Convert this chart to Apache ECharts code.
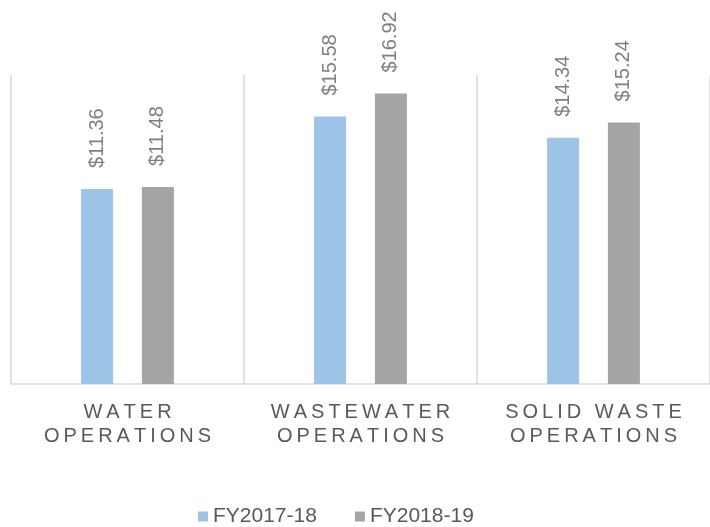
<!DOCTYPE html>
<html>
<head>
<meta charset="utf-8">
<script src="https://cdn.jsdelivr.net/npm/echarts@6/dist/echarts.min.js"></script>
<style>
  html, body { margin: 0; padding: 0; background: #fff; }
  #main { width: 710px; height: 527px; }
</style>
</head>
<body>
<div id="main"></div>
<script>
// chart data
var categories = ['WATER\nOPERATIONS', 'WASTEWATER\nOPERATIONS', 'SOLID WASTE\nOPERATIONS'];
var seriesNames = ['FY2017-18', 'FY2018-19'];
var fy2017 = [11.36, 15.58, 14.34];
var fy2018 = [11.48, 16.92, 15.24];

var colors = ['#9DC3E6', '#A5A5A5'];

// category labels are letter-spaced in the original: draw them char by char
var spacedLines = [];
categories.forEach(function (c) {
    spacedLines = spacedLines.concat(c.split('\n'));
});
var letterGap = 4;
var origFillText = CanvasRenderingContext2D.prototype.fillText;
CanvasRenderingContext2D.prototype.fillText = function (text, x, y, maxWidth) {
    if (spacedLines.indexOf(text) < 0) {
        return maxWidth === undefined ? origFillText.call(this, text, x, y)
            : origFillText.call(this, text, x, y, maxWidth);
    }
    var chars = text.split('');
    var self = this;
    var widths = chars.map(function (ch) { return self.measureText(ch).width; });
    var total = widths.reduce(function (a, b) { return a + b; }, 0) + letterGap * (chars.length - 1);
    var align = this.textAlign;
    var cx = x;
    if (align === 'center') {
        cx = x - total / 2;
    } else if (align === 'right' || align === 'end') {
        cx = x - total;
    }
    this.textAlign = 'left';
    for (var i = 0; i < chars.length; i++) {
        origFillText.call(this, chars[i], cx, y);
        cx += widths[i] + letterGap;
    }
    this.textAlign = align;
};

function makeSeries(name, data, color) {
    return {
        name: name,
        type: 'bar',
        data: data,
        barWidth: 32,
        barGap: '90%',
        itemStyle: { color: color },
        label: {
            show: true,
            position: 'top',
            rotate: 90,
            align: 'left',
            verticalAlign: 'middle',
            distance: 21,
            color: '#7f7f7f',
            fontSize: 20,
            fontFamily: 'Liberation Sans, Arial, sans-serif',
            formatter: function (p) {
                return '$' + p.value.toFixed(2);
            }
        }
    };
}

var myChart = echarts.init(document.getElementById('main'));

var option = {
    animation: false,
    color: colors,
    grid: { left: 11, right: -6, top: 75, bottom: 143, containLabel: false },
    legend: {
        data: seriesNames,
        left: 198,
        top: 506,
        icon: 'rect',
        itemWidth: 10,
        itemHeight: 10,
        itemGap: 38,
        textStyle: {
            color: '#595959',
            fontSize: 21,
            fontFamily: 'Liberation Sans, Arial, sans-serif'
        },
        padding: 0
    },
    xAxis: {
        type: 'category',
        data: categories,
        axisTick: { show: false },
        axisLine: { lineStyle: { color: '#d9d9d9', width: 1.5 } },
        splitLine: { show: true, interval: 0, lineStyle: { color: '#d9d9d9', width: 1.5 } },
        axisLabel: {
            interval: 0,
            margin: 16,
            color: '#595959',
            fontSize: 20,
            lineHeight: 24,
            fontFamily: 'Liberation Sans, Arial, sans-serif'
        }
    },
    yAxis: {
        type: 'value',
        min: 0,
        max: 18,
        show: false,
        splitLine: { show: false }
    },
    series: [
        makeSeries(seriesNames[0], fy2017, colors[0]),
        makeSeries(seriesNames[1], fy2018, colors[1])
    ]
};

myChart.setOption(option);
</script>
</body>
</html>
